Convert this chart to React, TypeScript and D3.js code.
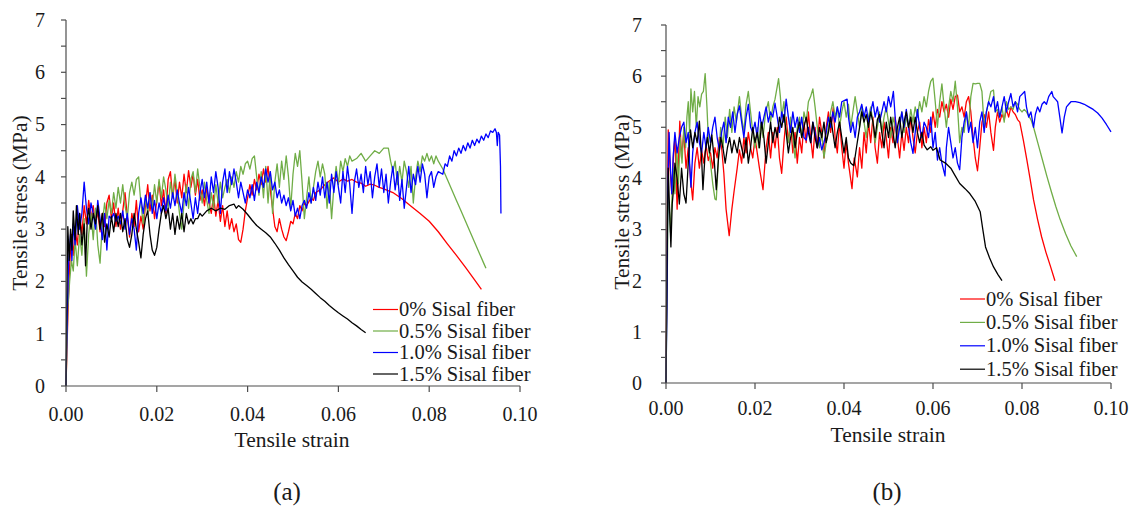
import React from "react";
import * as d3 from "d3";

type P = [number, number];

const seriesNames = ["0% Sisal fiber", "0.5% Sisal fiber", "1.0% Sisal fiber", "1.5% Sisal fiber"];
const seriesColors = ["#ff0000", "#70ad47", "#0000ff", "#000000"];
const xTicks = [0, 0.02, 0.04, 0.06, 0.08, 0.1];
const yTicks = [0, 1, 2, 3, 4, 5, 6, 7];
const yMinorTicks = [0.5, 1.5, 2.5, 3.5, 4.5, 5.5, 6.5];
const panelLabels = ["(a)", "(b)"];

// ---------- Panel (a) ----------
const redA: P[] = [[0,0],[0.0004,1.3],[0.0008,2.3],[0.0012,2.9],[0.0016,2.5],[0.002,3.0],[0.0025,2.7],[0.003,3.3],[0.0035,2.9],[0.004,3.45],[0.0045,3.1],[0.005,3.55],[0.0055,3.2],[0.006,3.45],[0.0065,3.05],[0.007,3.35],[0.0075,2.95],[0.008,3.3],[0.0085,3.05],[0.009,3.5],[0.0095,3.65],[0.01,3.2],[0.0105,3.5],[0.011,3.05],[0.0115,3.4],[0.012,3.0],[0.0125,3.35],[0.013,3.7],[0.0135,3.25],[0.014,2.85],[0.0145,3.3],[0.015,3.05],[0.0155,3.55],[0.016,2.95],[0.0165,3.25],[0.017,3.0],[0.0175,3.45],[0.018,3.85],[0.0185,3.35],[0.019,3.65],[0.0195,3.2],[0.02,3.55],[0.0205,3.9],[0.021,3.45],[0.0215,3.75],[0.022,3.3],[0.0225,3.95],[0.023,4.1],[0.0235,3.6],[0.024,3.95],[0.0245,3.5],[0.025,3.9],[0.0255,3.6],[0.026,4.05],[0.0265,3.7],[0.027,4.12],[0.0275,3.8],[0.028,4.05],[0.0285,3.65],[0.029,3.95],[0.0295,3.55],[0.03,3.75],[0.0305,3.45],[0.031,3.8],[0.0315,3.5],[0.032,3.3],[0.0325,3.65],[0.033,3.25],[0.0335,3.55],[0.034,3.15],[0.0345,3.45],[0.035,3.05],[0.0355,3.35],[0.036,3.0],[0.0365,3.2],[0.037,2.95],[0.0375,3.1],[0.038,2.8],[0.0385,2.75],[0.039,3.0],[0.0395,3.35],[0.04,3.6],[0.0405,3.85],[0.041,3.65],[0.0415,3.95],[0.042,3.75],[0.0425,4.05],[0.043,3.85],[0.0435,4.15],[0.044,3.9],[0.0445,4.2],[0.045,3.75],[0.0455,3.4],[0.046,3.05],[0.0465,2.95],[0.047,3.2],[0.0475,3.0],[0.048,2.85],[0.0485,2.78],[0.049,2.95],[0.0495,3.15],[0.05,3.1],[0.0505,3.3],[0.051,3.2],[0.0515,3.45],[0.052,3.35],[0.0525,3.5],[0.053,3.45],[0.054,3.6],[0.0545,3.55],[0.055,3.7],[0.056,3.75],[0.057,3.85],[0.058,3.92],[0.059,3.98],[0.06,3.9],[0.061,3.96],[0.062,3.92],[0.063,3.95],[0.064,3.9],[0.065,3.88],[0.066,3.82],[0.067,3.86],[0.068,3.84],[0.069,3.8],[0.07,3.77],[0.072,3.7],[0.074,3.58],[0.076,3.44],[0.078,3.3],[0.08,3.15],[0.082,2.95],[0.084,2.72],[0.086,2.5],[0.088,2.27],[0.09,2.03],[0.0915,1.85]];

const greenA: P[] = [[0,0],[0.0004,1.5],[0.0008,2.0],[0.0012,2.4],[0.0016,2.2],[0.002,2.8],[0.0025,2.3],[0.003,2.9],[0.0035,2.5],[0.004,3.2],[0.0045,2.1],[0.005,2.9],[0.0055,3.3],[0.006,2.8],[0.0065,3.4],[0.007,2.7],[0.0075,2.35],[0.008,3.1],[0.0085,3.5],[0.009,3.2],[0.0095,3.55],[0.01,3.3],[0.0105,3.7],[0.011,3.4],[0.0115,3.8],[0.012,3.5],[0.0125,3.85],[0.013,3.45],[0.0135,3.2],[0.014,3.7],[0.0145,3.9],[0.015,3.65],[0.0155,3.95],[0.016,4.0],[0.0165,3.5],[0.017,3.1],[0.0175,3.6],[0.018,3.3],[0.0185,3.7],[0.019,3.4],[0.0195,3.85],[0.02,3.5],[0.0205,3.95],[0.021,3.6],[0.0215,4.0],[0.022,3.75],[0.0225,3.4],[0.023,3.9],[0.0235,3.6],[0.024,4.05],[0.0245,3.7],[0.025,3.3],[0.0255,3.0],[0.026,3.5],[0.0265,3.85],[0.027,3.4],[0.0275,3.95],[0.028,4.1],[0.0285,3.7],[0.029,4.15],[0.0295,3.8],[0.03,3.5],[0.0305,3.9],[0.031,3.55],[0.0315,3.3],[0.032,3.7],[0.0325,3.4],[0.033,3.85],[0.0335,3.5],[0.034,3.9],[0.0345,3.6],[0.035,3.8],[0.0355,3.95],[0.036,3.7],[0.0365,4.0],[0.037,3.8],[0.0375,4.1],[0.038,3.9],[0.0385,4.2],[0.039,4.05],[0.0395,4.25],[0.04,4.3],[0.0405,4.15],[0.041,4.35],[0.0415,4.4],[0.042,4.0],[0.0425,3.65],[0.043,4.1],[0.0435,3.6],[0.044,4.2],[0.0445,3.5],[0.045,4.1],[0.0455,3.3],[0.046,3.9],[0.0465,4.25],[0.047,3.8],[0.0475,4.3],[0.048,3.95],[0.0485,4.4],[0.049,4.0],[0.0495,3.4],[0.05,4.05],[0.0505,4.45],[0.051,4.2],[0.0515,4.5],[0.052,3.9],[0.0525,3.2],[0.053,3.6],[0.0535,4.0],[0.054,3.5],[0.0545,3.8],[0.055,4.1],[0.0555,4.3],[0.056,4.0],[0.0565,4.25],[0.057,4.05],[0.0575,3.4],[0.058,3.9],[0.0585,3.2],[0.059,3.8],[0.0595,4.2],[0.06,3.85],[0.0605,4.3],[0.061,4.1],[0.0615,4.35],[0.062,4.2],[0.0625,4.4],[0.063,4.3],[0.064,4.35],[0.065,4.45],[0.066,4.3],[0.067,4.4],[0.068,4.5],[0.069,4.45],[0.07,4.55],[0.071,4.55],[0.0715,4.3],[0.072,4.1],[0.0725,4.3],[0.073,3.85],[0.0735,4.2],[0.074,3.9],[0.0745,4.3],[0.075,4.1],[0.0755,3.8],[0.076,4.2],[0.0765,3.5],[0.077,4.0],[0.0775,4.3],[0.078,4.1],[0.0785,4.4],[0.079,4.3],[0.0795,4.45],[0.08,4.3],[0.0805,4.4],[0.081,4.25],[0.0815,4.4],[0.082,4.3],[0.083,4.15],[0.084,3.95],[0.085,3.75],[0.086,3.55],[0.087,3.35],[0.088,3.15],[0.089,2.95],[0.09,2.75],[0.091,2.55],[0.092,2.35],[0.0925,2.25]];

const blueA: P[] = [[0,0],[0.0003,1.5],[0.0006,2.4],[0.001,2.9],[0.0013,2.4],[0.0016,3.1],[0.002,2.7],[0.0025,3.45],[0.003,3.0],[0.0035,3.3],[0.004,3.9],[0.0045,3.4],[0.005,3.1],[0.0055,3.5],[0.006,3.3],[0.0065,3.0],[0.007,3.55],[0.0075,3.2],[0.008,2.8],[0.0085,3.3],[0.009,2.6],[0.0095,3.25],[0.01,3.2],[0.0105,3.3],[0.011,3.15],[0.0115,3.25],[0.012,3.1],[0.0125,3.35],[0.013,3.0],[0.0135,3.3],[0.014,2.9],[0.0145,3.2],[0.015,3.0],[0.0155,2.6],[0.016,3.3],[0.0165,3.6],[0.017,3.3],[0.0175,3.65],[0.018,3.4],[0.0185,3.7],[0.019,3.3],[0.0195,3.55],[0.02,3.2],[0.0205,3.5],[0.021,3.3],[0.0215,3.6],[0.022,3.35],[0.0225,3.65],[0.023,3.4],[0.0235,3.7],[0.024,3.45],[0.0245,3.75],[0.025,3.5],[0.0255,3.3],[0.026,3.7],[0.0265,3.45],[0.027,3.8],[0.0275,3.5],[0.028,3.2],[0.0285,3.6],[0.029,3.3],[0.0295,3.7],[0.03,3.95],[0.0305,3.6],[0.031,3.9],[0.0315,3.5],[0.032,4.0],[0.0325,3.7],[0.033,4.1],[0.0335,3.8],[0.034,3.3],[0.0345,3.9],[0.035,4.15],[0.0355,3.7],[0.036,4.1],[0.0365,3.85],[0.037,4.15],[0.0375,3.9],[0.038,3.6],[0.0385,3.9],[0.039,3.7],[0.0395,3.5],[0.04,3.75],[0.0405,3.6],[0.041,3.85],[0.0415,3.55],[0.042,3.9],[0.0425,3.7],[0.043,4.0],[0.0435,3.8],[0.044,4.15],[0.0445,3.9],[0.045,4.1],[0.0455,3.75],[0.046,3.9],[0.0465,3.6],[0.047,3.75],[0.0475,3.5],[0.048,3.65],[0.0485,3.45],[0.049,3.6],[0.0495,3.35],[0.05,3.55],[0.0505,3.25],[0.051,3.4],[0.0515,3.2],[0.052,3.45],[0.0525,3.55],[0.053,3.4],[0.0535,3.7],[0.054,3.5],[0.0545,3.8],[0.055,3.55],[0.0555,3.9],[0.056,3.65],[0.0565,4.0],[0.057,3.6],[0.0575,3.9],[0.058,3.5],[0.0585,4.05],[0.059,3.7],[0.0595,4.1],[0.06,3.8],[0.0605,3.5],[0.061,4.1],[0.0615,3.7],[0.062,4.2],[0.0625,3.85],[0.063,3.3],[0.0635,3.9],[0.064,4.15],[0.0645,3.8],[0.065,4.05],[0.0655,3.7],[0.066,4.2],[0.0665,3.85],[0.067,4.1],[0.0675,3.6],[0.068,4.0],[0.0685,4.25],[0.069,3.8],[0.0695,4.15],[0.07,3.7],[0.0705,4.05],[0.071,3.5],[0.0715,3.9],[0.072,4.2],[0.0725,3.75],[0.073,4.1],[0.0735,3.55],[0.074,3.95],[0.0745,3.4],[0.075,3.8],[0.0755,4.2],[0.076,3.7],[0.0765,4.05],[0.077,3.85],[0.0775,4.2],[0.078,3.9],[0.0785,4.25],[0.079,4.05],[0.0795,3.6],[0.08,4.0],[0.0805,4.1],[0.081,3.8],[0.0815,4.0],[0.082,4.1],[0.083,4.05],[0.0835,4.25],[0.084,4.2],[0.0845,4.4],[0.085,4.3],[0.0855,4.5],[0.086,4.4],[0.0865,4.55],[0.087,4.45],[0.0875,4.6],[0.088,4.5],[0.0885,4.65],[0.089,4.55],[0.0895,4.7],[0.09,4.6],[0.0905,4.72],[0.091,4.65],[0.0915,4.78],[0.092,4.7],[0.0925,4.82],[0.093,4.75],[0.0935,4.88],[0.094,4.85],[0.0945,4.92],[0.0948,4.85],[0.095,4.6],[0.0952,4.85],[0.0955,4.8],[0.0957,4.2],[0.0958,3.3]];

const blackA: P[] = [[0,0],[0.0002,1.8],[0.0004,3.05],[0.0007,2.4],[0.001,3.0],[0.0013,2.6],[0.0016,3.35],[0.002,2.8],[0.0023,3.45],[0.0027,2.9],[0.003,3.3],[0.0035,2.7],[0.004,3.1],[0.0043,2.3],[0.0047,3.2],[0.005,3.4],[0.0055,3.0],[0.006,3.3],[0.0065,3.1],[0.007,3.45],[0.0075,3.0],[0.008,3.3],[0.0085,2.75],[0.009,3.1],[0.0095,2.85],[0.01,3.25],[0.0105,2.95],[0.011,3.3],[0.0115,3.05],[0.012,3.3],[0.0125,2.95],[0.013,3.2],[0.0135,2.8],[0.014,2.65],[0.0145,2.9],[0.015,3.3],[0.0155,3.0],[0.016,2.75],[0.0165,2.45],[0.017,2.9],[0.0175,3.2],[0.018,3.35],[0.0185,2.9],[0.019,2.6],[0.0195,2.5],[0.02,2.65],[0.0205,3.0],[0.021,3.3],[0.0215,3.45],[0.022,3.2],[0.0225,3.4],[0.023,3.0],[0.0235,3.3],[0.024,2.9],[0.0245,3.25],[0.025,3.0],[0.0255,3.3],[0.026,2.95],[0.0265,3.3],[0.027,3.1],[0.0275,3.2],[0.028,3.1],[0.0285,3.2],[0.029,3.2],[0.0295,3.3],[0.03,3.25],[0.031,3.35],[0.032,3.4],[0.033,3.35],[0.034,3.4],[0.035,3.38],[0.036,3.45],[0.037,3.48],[0.0375,3.4],[0.038,3.45],[0.039,3.38],[0.04,3.28],[0.041,3.17],[0.042,3.07],[0.043,3.0],[0.044,2.93],[0.045,2.85],[0.046,2.73],[0.047,2.6],[0.048,2.45],[0.049,2.32],[0.05,2.2],[0.051,2.08],[0.052,1.99],[0.053,1.92],[0.054,1.85],[0.055,1.77],[0.056,1.69],[0.057,1.62],[0.058,1.54],[0.059,1.47],[0.06,1.4],[0.061,1.34],[0.062,1.28],[0.063,1.21],[0.064,1.15],[0.065,1.08],[0.066,1.02]];

// ---------- Panel (b) ----------
const redB: P[] = [[0,0],[0.0002,2.5],[0.0005,4.95],[0.0009,4.2],[0.0013,3.7],[0.0017,4.5],[0.002,4.8],[0.0025,3.4],[0.0029,4.6],[0.0031,5.12],[0.0035,4.4],[0.004,4.9],[0.0045,4.2],[0.005,4.6],[0.0055,4.0],[0.006,3.58],[0.0065,4.3],[0.007,4.6],[0.0075,4.2],[0.008,4.55],[0.0085,4.3],[0.009,4.65],[0.0095,4.35],[0.01,4.5],[0.0105,4.2],[0.011,4.6],[0.0115,4.4],[0.012,4.8],[0.0125,4.6],[0.013,4.1],[0.0135,3.4],[0.0142,2.88],[0.0148,3.4],[0.0153,3.75],[0.016,4.2],[0.0165,4.56],[0.017,4.3],[0.0175,4.8],[0.018,4.5],[0.0185,4.9],[0.019,4.6],[0.0195,4.4],[0.02,4.8],[0.0205,4.5],[0.021,4.2],[0.0218,3.78],[0.0225,4.6],[0.023,4.9],[0.0235,4.4],[0.024,4.9],[0.0245,4.6],[0.025,5.0],[0.0255,4.4],[0.026,4.1],[0.0265,4.7],[0.027,5.2],[0.0275,4.7],[0.028,5.1],[0.0285,4.5],[0.029,4.9],[0.0295,4.3],[0.03,4.8],[0.0305,4.5],[0.031,5.1],[0.0315,4.7],[0.032,5.3],[0.0325,4.8],[0.033,4.4],[0.0335,5.0],[0.034,4.6],[0.0345,5.2],[0.035,4.9],[0.0355,4.4],[0.036,5.0],[0.0365,5.3],[0.037,4.9],[0.0376,5.4],[0.038,4.8],[0.0385,4.5],[0.039,5.1],[0.0395,4.6],[0.04,4.2],[0.0405,4.7],[0.041,4.3],[0.0418,3.8],[0.0423,4.4],[0.043,4.03],[0.0435,4.6],[0.044,4.2],[0.0445,4.9],[0.045,4.5],[0.0455,5.1],[0.046,4.7],[0.0465,5.2],[0.047,4.6],[0.0475,4.3],[0.048,4.9],[0.0485,4.6],[0.049,5.1],[0.0495,4.8],[0.05,4.4],[0.0505,5.0],[0.051,4.7],[0.0515,5.2],[0.052,4.8],[0.0525,4.4],[0.053,4.9],[0.0535,4.55],[0.054,5.0],[0.0545,4.7],[0.055,5.2],[0.0555,4.8],[0.056,4.5],[0.0565,4.9],[0.057,5.1],[0.0575,4.6],[0.058,5.0],[0.0585,4.7],[0.059,5.15],[0.0595,4.9],[0.06,5.3],[0.0605,5.0],[0.061,5.35],[0.0615,5.2],[0.062,5.5],[0.0625,5.3],[0.063,5.45],[0.0635,5.2],[0.064,5.55],[0.0645,5.35],[0.065,5.6],[0.0655,5.63],[0.066,5.3],[0.0665,5.4],[0.067,5.2],[0.0675,5.5],[0.068,5.6],[0.0685,5.3],[0.069,4.8],[0.0695,4.4],[0.07,4.15],[0.0705,4.6],[0.071,5.1],[0.0715,5.25],[0.072,5.0],[0.0725,5.3],[0.073,4.9],[0.0736,4.55],[0.074,5.0],[0.0745,5.3],[0.075,5.1],[0.0755,5.25],[0.076,5.15],[0.0765,5.35],[0.077,5.2],[0.0775,5.4],[0.078,5.3],[0.0785,5.25],[0.079,5.15],[0.0795,5.1],[0.0803,4.75],[0.0811,4.36],[0.0818,4.0],[0.0826,3.58],[0.0835,3.2],[0.0844,2.86],[0.0854,2.55],[0.0864,2.28],[0.0874,2.0]];

const greenB: P[] = [[0,0],[0.0003,2.2],[0.0005,3.7],[0.0008,3.3],[0.001,2.95],[0.0013,3.5],[0.0016,4.2],[0.002,3.7],[0.0024,4.6],[0.0028,3.9],[0.0032,4.8],[0.0036,4.3],[0.004,5.0],[0.0044,4.6],[0.0047,5.2],[0.005,5.5],[0.0053,4.9],[0.0056,5.75],[0.006,5.3],[0.0064,5.7],[0.0068,5.0],[0.0072,5.6],[0.0076,5.4],[0.008,5.65],[0.0084,5.7],[0.0088,6.05],[0.0092,5.4],[0.0096,4.6],[0.01,4.3],[0.0105,3.9],[0.011,3.6],[0.0113,3.58],[0.0118,4.4],[0.0123,5.0],[0.0128,4.6],[0.0133,5.2],[0.0138,4.8],[0.0143,5.35],[0.0148,4.9],[0.0153,5.4],[0.0158,5.1],[0.0165,5.6],[0.017,5.2],[0.0175,4.9],[0.018,5.45],[0.0185,5.7],[0.019,5.3],[0.0195,4.9],[0.02,4.6],[0.0205,5.0],[0.0208,4.6],[0.0213,5.1],[0.0218,4.8],[0.0224,5.3],[0.023,5.5],[0.0235,5.1],[0.024,5.4],[0.0245,5.55],[0.025,5.8],[0.0253,5.95],[0.0257,5.6],[0.026,5.2],[0.0265,5.5],[0.027,4.9],[0.0275,4.7],[0.028,5.2],[0.0285,4.8],[0.029,4.4],[0.0295,5.0],[0.03,5.2],[0.0305,4.8],[0.031,5.3],[0.0315,5.1],[0.032,5.5],[0.0325,5.6],[0.033,5.75],[0.0335,5.4],[0.034,5.0],[0.0345,4.6],[0.035,4.9],[0.0355,4.4],[0.036,4.7],[0.0365,5.0],[0.037,5.3],[0.0375,5.5],[0.038,5.2],[0.0385,5.4],[0.039,5.0],[0.0395,5.3],[0.04,5.5],[0.0405,5.2],[0.041,5.45],[0.0415,5.0],[0.042,5.3],[0.0425,5.6],[0.043,5.3],[0.0435,5.0],[0.044,5.4],[0.0445,5.1],[0.045,4.8],[0.0455,5.2],[0.046,5.4],[0.0465,5.1],[0.047,4.7],[0.0475,5.0],[0.048,5.3],[0.0485,4.9],[0.049,5.2],[0.0495,5.4],[0.05,5.1],[0.0505,4.8],[0.051,5.2],[0.0515,5.0],[0.052,4.7],[0.0525,5.1],[0.053,5.3],[0.0535,4.9],[0.054,5.2],[0.0545,5.0],[0.055,5.35],[0.0555,5.1],[0.056,5.4],[0.0565,5.2],[0.057,5.5],[0.0575,5.3],[0.058,5.6],[0.0585,5.4],[0.059,5.7],[0.0595,5.9],[0.06,5.96],[0.0605,5.5],[0.061,5.0],[0.0615,5.5],[0.062,5.85],[0.0625,5.4],[0.063,5.0],[0.0635,5.4],[0.064,5.7],[0.0645,5.5],[0.065,5.9],[0.0655,5.4],[0.066,4.7],[0.0665,5.0],[0.067,4.9],[0.0675,5.3],[0.068,5.0],[0.0685,5.6],[0.069,5.86],[0.0695,5.85],[0.07,5.86],[0.0705,5.86],[0.071,5.7],[0.0715,5.0],[0.072,5.3],[0.0725,5.5],[0.073,5.7],[0.0736,5.73],[0.074,5.3],[0.0745,5.35],[0.075,5.2],[0.0755,5.4],[0.076,5.1],[0.0765,5.5],[0.077,5.35],[0.0775,5.4],[0.078,5.35],[0.0785,5.5],[0.079,5.45],[0.0795,5.35],[0.08,5.3],[0.0805,5.35],[0.081,5.3],[0.082,5.15],[0.0826,5.0],[0.0836,4.68],[0.0846,4.36],[0.0856,4.04],[0.0866,3.74],[0.0876,3.45],[0.0886,3.19],[0.0898,2.92],[0.091,2.68],[0.0923,2.47]];

const blueB: P[] = [[0,0],[0.0002,1.5],[0.0004,3.8],[0.0007,4.9],[0.001,4.2],[0.0013,3.7],[0.0016,4.4],[0.002,4.9],[0.0025,4.5],[0.003,4.8],[0.0035,5.0],[0.004,5.1],[0.0045,4.7],[0.005,4.9],[0.0053,4.3],[0.0056,3.83],[0.006,4.5],[0.0065,4.9],[0.007,5.1],[0.0075,4.7],[0.008,4.5],[0.0085,4.9],[0.009,4.6],[0.0095,5.0],[0.01,4.7],[0.0105,5.0],[0.011,5.2],[0.0115,4.8],[0.012,4.55],[0.0125,4.9],[0.013,5.1],[0.0135,4.7],[0.014,5.2],[0.0145,5.0],[0.015,5.3],[0.0155,4.9],[0.016,5.25],[0.0165,5.42],[0.017,5.1],[0.0175,4.8],[0.018,5.2],[0.0185,5.45],[0.019,5.0],[0.0195,4.9],[0.02,5.1],[0.0205,4.8],[0.021,5.3],[0.0215,5.0],[0.022,5.2],[0.0225,5.4],[0.023,5.1],[0.0235,5.3],[0.024,5.2],[0.0245,5.47],[0.025,5.2],[0.0255,4.9],[0.026,5.3],[0.0265,5.1],[0.027,5.55],[0.0275,5.2],[0.028,4.9],[0.0285,5.3],[0.029,5.0],[0.0295,5.2],[0.03,4.9],[0.0305,5.2],[0.031,4.8],[0.0315,4.75],[0.032,5.0],[0.0325,4.7],[0.033,5.1],[0.0335,4.9],[0.034,4.6],[0.0345,4.8],[0.035,4.56],[0.0355,4.7],[0.036,4.9],[0.0365,5.2],[0.037,5.0],[0.0375,5.3],[0.038,5.1],[0.0385,5.4],[0.039,5.2],[0.0395,5.5],[0.0407,5.55],[0.041,5.2],[0.0415,4.9],[0.042,5.1],[0.0425,4.8],[0.043,5.2],[0.0435,5.3],[0.044,5.45],[0.0445,5.2],[0.045,5.4],[0.0455,5.1],[0.046,5.3],[0.0465,5.5],[0.047,5.2],[0.0475,5.4],[0.048,5.1],[0.0485,5.3],[0.049,5.5],[0.0495,5.3],[0.05,5.6],[0.0505,5.4],[0.0511,5.7],[0.0515,5.2],[0.052,4.7],[0.0525,5.0],[0.053,5.3],[0.0535,5.0],[0.054,5.35],[0.0545,5.0],[0.055,4.7],[0.0555,4.49],[0.056,4.9],[0.0565,5.35],[0.057,5.0],[0.0575,4.8],[0.058,5.1],[0.0585,5.0],[0.059,4.8],[0.0595,5.2],[0.06,4.6],[0.0605,4.9],[0.061,4.36],[0.0615,4.6],[0.062,4.3],[0.0627,4.05],[0.063,4.6],[0.0635,5.0],[0.064,4.7],[0.0645,4.4],[0.065,4.6],[0.0655,4.3],[0.066,4.17],[0.0665,4.8],[0.067,5.1],[0.0675,5.3],[0.068,4.9],[0.0685,5.1],[0.069,4.7],[0.0695,5.0],[0.07,4.6],[0.0705,5.1],[0.071,5.3],[0.0715,4.9],[0.072,5.3],[0.0725,5.5],[0.073,5.4],[0.0736,5.6],[0.074,5.3],[0.0745,5.5],[0.075,5.2],[0.0755,5.4],[0.076,5.6],[0.0765,5.3],[0.077,5.5],[0.0775,5.66],[0.078,5.4],[0.0785,5.5],[0.079,5.3],[0.0795,5.6],[0.0806,5.7],[0.081,5.4],[0.0815,5.2],[0.082,5.3],[0.0826,5.0],[0.083,5.25],[0.0835,5.4],[0.084,5.3],[0.0845,5.45],[0.085,5.5],[0.0855,5.45],[0.086,5.6],[0.0867,5.7],[0.087,5.6],[0.0875,5.55],[0.088,5.5],[0.0885,5.2],[0.089,4.89],[0.0895,5.2],[0.09,5.4],[0.0905,5.45],[0.091,5.5],[0.092,5.5],[0.093,5.48],[0.094,5.45],[0.095,5.4],[0.096,5.35],[0.097,5.28],[0.098,5.18],[0.099,5.05],[0.1,4.91]];

const blackB: P[] = [[0,0],[0.0003,3.0],[0.0005,4.2],[0.0008,3.4],[0.0011,2.66],[0.0014,3.5],[0.0017,3.8],[0.002,4.3],[0.0025,4.0],[0.003,3.5],[0.0035,4.2],[0.004,3.7],[0.0045,3.52],[0.005,4.3],[0.0055,4.95],[0.006,4.6],[0.0065,4.9],[0.007,4.7],[0.0075,5.12],[0.008,4.4],[0.0083,3.78],[0.0088,4.5],[0.0093,4.8],[0.0098,4.5],[0.0103,4.85],[0.0108,4.4],[0.0113,3.78],[0.0118,4.4],[0.0123,4.8],[0.0128,4.6],[0.0133,4.3],[0.0138,4.6],[0.0143,4.8],[0.0148,4.5],[0.0153,4.75],[0.016,4.5],[0.0165,4.8],[0.017,4.6],[0.0175,4.4],[0.018,4.8],[0.0185,4.3],[0.019,4.6],[0.0195,5.0],[0.02,4.7],[0.0205,4.9],[0.021,4.6],[0.0215,5.1],[0.022,4.8],[0.0225,4.3],[0.023,4.7],[0.0235,5.1],[0.024,4.7],[0.0245,5.0],[0.025,4.8],[0.0255,5.2],[0.026,5.0],[0.0265,5.25],[0.027,4.9],[0.0275,4.5],[0.028,4.8],[0.0285,5.0],[0.029,4.6],[0.0295,4.9],[0.03,5.1],[0.0305,4.8],[0.031,5.0],[0.0315,5.2],[0.032,4.9],[0.0325,4.7],[0.033,5.1],[0.0335,4.8],[0.034,4.6],[0.0345,5.0],[0.035,4.8],[0.0355,5.1],[0.036,4.7],[0.0365,4.9],[0.037,5.2],[0.0375,4.9],[0.038,4.6],[0.0385,4.9],[0.039,5.1],[0.0395,4.8],[0.04,4.5],[0.0405,4.8],[0.041,4.4],[0.0415,4.3],[0.0422,4.25],[0.0428,4.6],[0.0435,5.0],[0.044,5.3],[0.0445,5.1],[0.045,5.25],[0.0455,5.0],[0.046,5.3],[0.0465,5.1],[0.047,4.8],[0.0475,5.15],[0.048,5.25],[0.0485,4.9],[0.049,4.6],[0.0495,5.1],[0.05,4.8],[0.0505,5.2],[0.051,4.9],[0.0515,4.6],[0.052,5.0],[0.0525,5.2],[0.053,4.8],[0.0535,5.1],[0.054,5.3],[0.0545,5.0],[0.055,5.2],[0.0555,4.9],[0.056,5.2],[0.0565,4.9],[0.057,4.7],[0.0575,4.9],[0.058,4.65],[0.0587,4.56],[0.0595,4.62],[0.06,4.55],[0.0608,4.6],[0.0616,4.36],[0.0628,4.3],[0.064,4.2],[0.065,4.05],[0.066,3.9],[0.0672,3.8],[0.0683,3.7],[0.0695,3.55],[0.0706,3.35],[0.0712,3.0],[0.0718,2.66],[0.0727,2.45],[0.0736,2.27],[0.0746,2.12],[0.0755,2.0]];

const panelASeries = [redA, greenA, blueA, blackA];
const panelBSeries = [redB, greenB, blueB, blackB];

const FONT = "'Liberation Serif', 'Times New Roman', serif";
const AXIS = "#4d4d4d";

type Layout = {
  x0: number; x1: number; yb: number; yt: number;
  tickLabelDy: number; yLabelRight: number;
  yTitleX: number; yTitleY: number;
  xTitleX: number; xTitleY: number;
  panelX: number; panelY: number;
  legX0: number; legX1: number; legY0: number; legStep: number;
};

const layoutA: Layout = {
  x0: 66, x1: 520, yb: 386, yt: 20, tickLabelDy: 35, yLabelRight: 45,
  yTitleX: 20, yTitleY: 203, xTitleX: 292, xTitleY: 447, panelX: 287, panelY: 500,
  legX0: 373, legX1: 398, legY0: 309.5, legStep: 21.5,
};
const layoutB: Layout = {
  x0: 666, x1: 1111, yb: 383, yt: 25, tickLabelDy: 32, yLabelRight: 642,
  yTitleX: 622, yTitleY: 202, xTitleX: 888, xTitleY: 442, panelX: 887, panelY: 500,
  legX0: 960, legX1: 985, legY0: 299, legStep: 23.4,
};

function Panel({ L, data, label }: { L: Layout; data: P[][]; label: string }) {
  const x = d3.scaleLinear().domain([0, 0.1]).range([L.x0, L.x1]);
  const y = d3.scaleLinear().domain([0, 7]).range([L.yb, L.yt]);
  const line = d3.line<P>().x((d) => x(d[0])).y((d) => y(d[1]));
  return (
    <g>
      {data.map((s, i) => (
        <path key={i} d={line(s) || ""} fill="none" stroke={seriesColors[i]} strokeWidth={1.3} strokeLinejoin="round" />
      ))}
      <line x1={L.x0} x2={L.x0} y1={y(0)} y2={y(7)} stroke={AXIS} strokeWidth={1.2} />
      {yTicks.map((t) => (
        <g key={"y" + t}>
          <line x1={L.x0 - 5} x2={L.x0} y1={y(t)} y2={y(t)} stroke={AXIS} strokeWidth={1.2} />
          <text x={L.yLabelRight} y={y(t)} dy="0.34em" textAnchor="end" fontSize={20} fontFamily={FONT} fill="#1a1a1a">{t}</text>
        </g>
      ))}
      {yMinorTicks.map((t) => (
        <line key={"ym" + t} x1={L.x0 - 5} x2={L.x0} y1={y(t)} y2={y(t)} stroke={AXIS} strokeWidth={1.2} />
      ))}
      <line x1={L.x0} x2={L.x1} y1={L.yb} y2={L.yb} stroke={AXIS} strokeWidth={1.2} />
      {xTicks.map((t) => (
        <g key={"x" + t}>
          <line x1={x(t)} x2={x(t)} y1={L.yb} y2={L.yb + 6} stroke={AXIS} strokeWidth={1.2} />
          <text x={x(t)} y={L.yb + L.tickLabelDy} textAnchor="middle" fontSize={20} fontFamily={FONT} fill="#1a1a1a">{t.toFixed(2)}</text>
        </g>
      ))}
      <text transform={`translate(${L.yTitleX},${L.yTitleY}) rotate(-90)`} textAnchor="middle" dy="0.34em" fontSize={21.5} fontFamily={FONT} fill="#1a1a1a">Tensile stress (MPa)</text>
      <text x={L.xTitleX} y={L.xTitleY} textAnchor="middle" fontSize={21.5} fontFamily={FONT} fill="#1a1a1a">Tensile strain</text>
      <text x={L.panelX} y={L.panelY} textAnchor="middle" fontSize={25} fontFamily={FONT} fill="#1a1a1a">{label}</text>
      {seriesNames.map((n, i) => {
        const ly = L.legY0 + i * L.legStep;
        return (
          <g key={"l" + i}>
            <line x1={L.legX0} x2={L.legX1} y1={ly} y2={ly} stroke={seriesColors[i]} strokeWidth={1.2} />
            <text x={L.legX1 + 1} y={ly + 6.5} fontSize={20.5} fontFamily={FONT} fill="#1a1a1a">{n}</text>
          </g>
        );
      })}
    </g>
  );
}

export default function App() {
  return (
    <svg width={1134} height={511} style={{ position: "absolute", left: 0, top: 0, background: "#fff" }}>
      <rect width={1134} height={511} fill="#fff" />
      <Panel L={layoutA} data={panelASeries} label={panelLabels[0]} />
      <Panel L={layoutB} data={panelBSeries} label={panelLabels[1]} />
    </svg>
  );
}
